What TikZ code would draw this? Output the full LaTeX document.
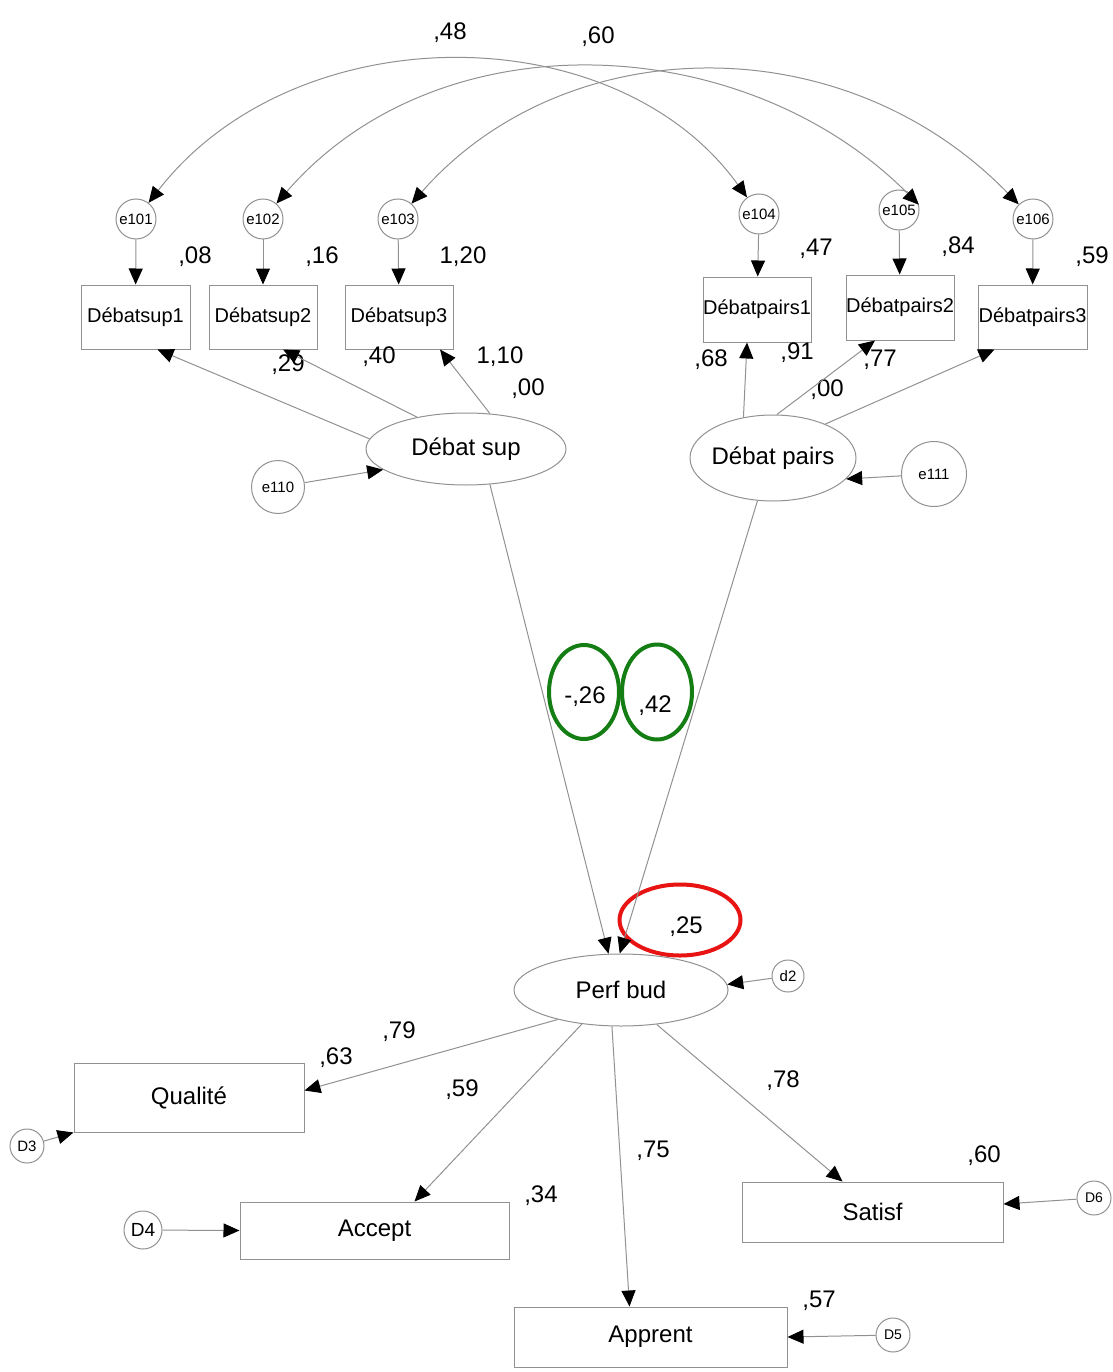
\documentclass[tikz,border=0pt]{standalone}
\usepackage{fontspec}
\setmainfont{Liberation Sans}
\usepackage{xcolor}
\usepackage{tikz}
\usetikzlibrary{shapes.geometric,arrows.meta,positioning,calc}
\definecolor{linegray}{RGB}{145,145,145}
\definecolor{markgreen}{RGB}{20,125,20}
\definecolor{markred}{RGB}{232,20,20}
\newcommand{\fsz}[1]{\fontsize{#1}{#1}\selectfont}

\begin{document}
\begin{tikzpicture}[x=1pt,y=-1pt,
  obs/.style={draw=linegray,line width=1pt,inner sep=0pt,font=\fsz{20}},
  lat/.style={draw=linegray,line width=1pt,ellipse,inner sep=0pt,font=\fsz{24}},
  err/.style={draw=linegray,line width=1pt,circle,inner sep=0pt,minimum size=40pt,font=\fsz{15}},
  coef/.style={inner sep=0pt,font=\fsz{24}},
  link/.style={draw=linegray,line width=1pt,-{Triangle[length=16pt,width=14pt,color=black]}},
  cov/.style={draw=linegray,line width=1pt,{Triangle[length=16pt,width=14pt,color=black]}-{Triangle[length=16pt,width=14pt,color=black]}},
  hilite/.style={ellipse,line width=4pt,inner sep=0pt}]
\useasboundingbox (0,0) rectangle (1112,1372);
% error terms of the indicators
\node[err](e101) at (136,219){e101};
\node[err](e102) at (263,219){e102};
\node[err](e103) at (398,219){e103};
\node[err](e104) at (759,214){e104};
\node[err](e105) at (899,210){e105};
\node[err](e106) at (1033,219){e106};
% indicators
\node[obs,minimum width=109pt,minimum height=64pt](ds1) at (135.5,317){Débatsup1};
\node[obs,minimum width=108pt,minimum height=64pt](ds2) at (263,317){Débatsup2};
\node[obs,minimum width=108pt,minimum height=64pt](ds3) at (399,317){Débatsup3};
\node[obs,minimum width=108pt,minimum height=65pt](dp1) at (757,309.5){Débatpairs1};
\node[obs,minimum width=108pt,minimum height=65pt](dp2) at (900,307.5){Débatpairs2};
\node[obs,minimum width=109pt,minimum height=64pt](dp3) at (1032.5,317){Débatpairs3};
% latent variables
\node[lat,minimum width=200pt,minimum height=72pt](dsup) at (466,449){Débat sup};
\node[lat,inner xsep=-3pt,minimum width=166pt,minimum height=86pt](dpairs) at (773,458){Débat pairs};
\node[lat,minimum width=214pt,minimum height=72pt](perf) at (621,990){Perf bud};
\node[err,minimum size=53pt](e110) at (278,487){e110};
\node[err,minimum size=65pt](e111) at (934,474){e111};
\node[err,minimum size=32pt](d2) at (788,976){d2};
% outcomes
\node[obs,minimum width=230pt,minimum height=69pt,font=\fsz{24}](qual) at (189,1097.5){Qualité};
\node[obs,minimum width=269pt,minimum height=57pt,font=\fsz{24}](accept) at (374.5,1230.5){Accept};
\node[obs,minimum width=261pt,minimum height=60pt,font=\fsz{24}](satisf) at (872.5,1212){Satisf};
\node[obs,minimum width=273pt,minimum height=60pt,font=\fsz{24}](apprent) at (650.5,1337){Apprent};
\node[err,minimum size=34pt](D3) at (27,1146){D3};
\node[err,minimum size=38pt,font=\fsz{19}](D4) at (143,1230){D4};
\node[err,minimum size=34pt,font=\fsz{14}](D5) at (893,1335){D5};
\node[err,minimum size=34pt,font=\fsz{14}](D6) at (1094,1198){D6};
% coefficients
\node[coef](c48) at (450,33){,48};
\node[coef](c60) at (598,37){,60};
\node[coef](v1) at (195,257){,08};
\node[coef](v2) at (322,257){,16};
\node[coef](v3) at (463,257){1,20};
\node[coef](v4) at (816,249){,47};
\node[coef](v5) at (958,247){,84};
\node[coef](v6) at (1092,257){,59};
\node[coef](l29) at (288,365){,29};
\node[coef](l40) at (379,357){,40};
\node[coef](l110) at (500,357){1,10};
\node[coef](r00s) at (528,389){,00};
\node[coef](l68) at (711,360){,68};
\node[coef](l91) at (797,353){,91};
\node[coef](l77) at (880,360){,77};
\node[coef](r00p) at (827,390){,00};
\node[coef](b26) at (585,697){-,26};
\node[coef](b42) at (655,706){,42};
\node[coef](r25) at (686,927){,25};
\node[coef](l79) at (399,1032){,79};
\node[coef](v63) at (336,1058){,63};
\node[coef](l59) at (462,1090){,59};
\node[coef](v34) at (541,1196){,34};
\node[coef](l75) at (653,1151){,75};
\node[coef](l78) at (783,1081){,78};
\node[coef](v60) at (984,1156){,60};
\node[coef](v57) at (819,1301){,57};
% highlights
\node[hilite,draw=markgreen,minimum width=70pt,minimum height=94pt](hl26) at (584,692){};
\node[hilite,draw=markgreen,minimum width=70pt,minimum height=95pt](hl42) at (657,692){};
\node[hilite,draw=markred,minimum width=121pt,minimum height=71pt](hl25) at (680,920){};
% connectors
\draw[link](e101)--(ds1); \draw[link](e102)--(ds2); \draw[link](e103)--(ds3);
\draw[link](e104)--(dp1); \draw[link](e105)--(dp2); \draw[link](e106)--(dp3);
\draw[link](dsup.174)--([xshift=22pt]ds1.south); \draw[link](dsup.147)--([xshift=20pt]ds2.south); \draw[link](dsup.56)--([xshift=41pt]ds3.south);
\draw[link](dpairs.126)--([xshift=-10pt]dp1.south); \draw[link](dpairs.85)--([xshift=-25pt]dp2.south); \draw[link](dpairs.33)--([xshift=-38pt]dp3.south);
\draw[link](e110)--(dsup.194); \draw[link](e111)--(dpairs.-16); \draw[link](d2)--(perf.3);
\draw[link](dsup.-56)--(perf.109); \draw[link](dpairs.-110)--(perf.92);
\draw[link](perf.205)--([yshift=7pt]qual.east); \draw[link](perf.221)--([xshift=40pt]accept.north);
\draw[link](perf.256)--([xshift=-21pt]apprent.north); \draw[link](perf.-44)--([xshift=-30pt]satisf.north);
\draw[link](D3)--(qual.south west); \draw[link](D4)--(accept.west);
\draw[link](D5)--(apprent.east); \draw[link](D6)--([yshift=8pt]satisf.east);
\draw[cov](e101) .. controls (295,14) and (615,14) .. (e104);
\draw[cov](e102) .. controls (440,15) and (745,30) .. (e105.15);
\draw[cov](e103) .. controls (564,30) and (842,23) .. (e106);
\end{tikzpicture}
\end{document}
